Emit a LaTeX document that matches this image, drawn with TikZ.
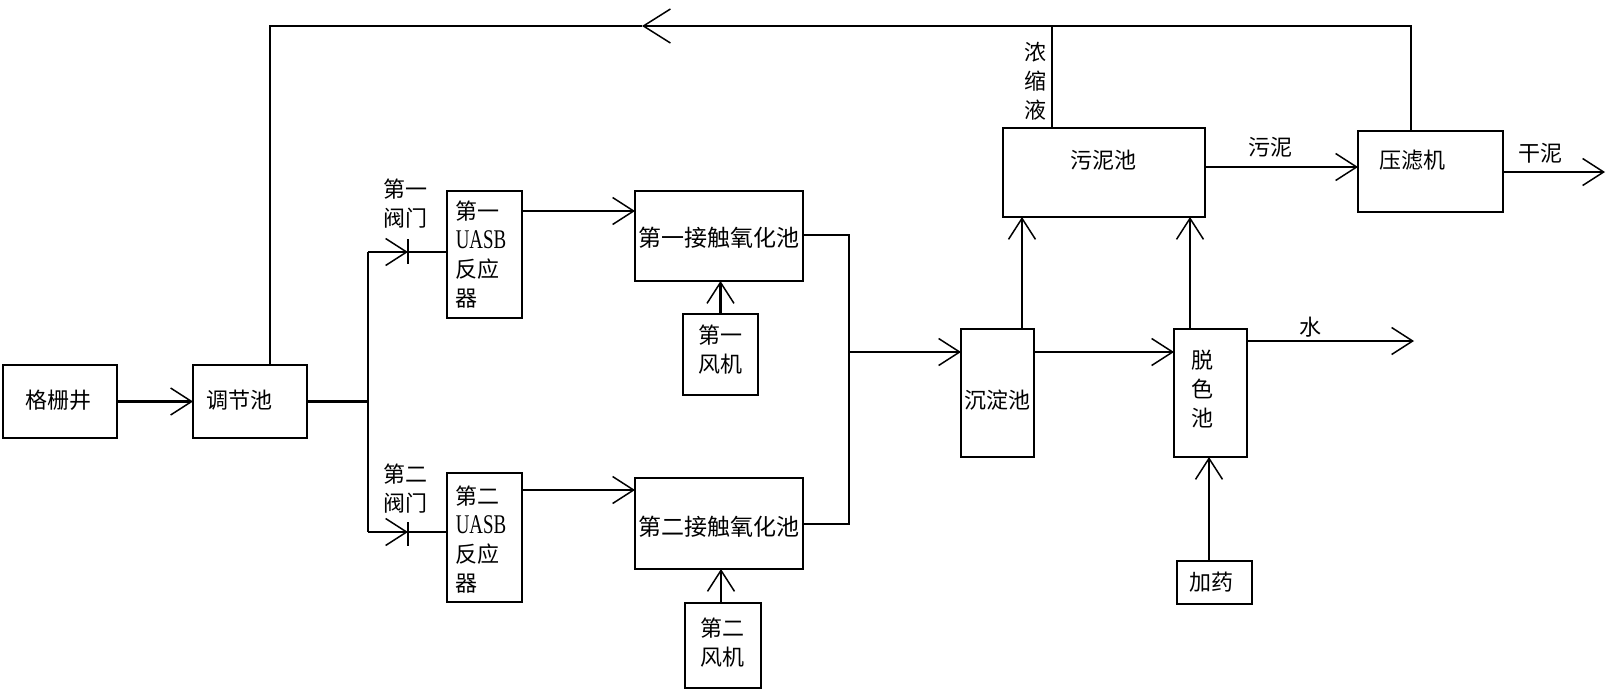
\documentclass[tikz,border=0pt]{standalone}
\usepackage{fontspec}
\setmainfont{Noto Sans CJK SC}
\newfontfamily\latf[FakeStretch=0.7]{Liberation Serif}
\usetikzlibrary{arrows.meta}
\tikzset{
 blk/.style={draw,line width=2.3pt,inner sep=0pt,outer sep=0pt},
 lbl/.style={inner sep=0pt,font=\fontsize{22}{29}\selectfont,align=center},
 thk/.style={line width=2.6pt},
 thn/.style={line width=1.6pt},
 tip/.style={-{Straight Barb[length=21pt,width=27pt,line width=1.5pt]}},
 bigtip/.style={-{Straight Barb[length=27pt,width=34pt,line width=1.5pt]}}
}
\begin{document}
\begin{tikzpicture}[x=1pt,y=-1pt]
\fill[white] (0,0) rectangle (1611,694);
\useasboundingbox (0,0) rectangle (1611,694);

% boxes
\node[blk,minimum width=114pt,minimum height=73pt] (gs) at (60,401.5) {};
\node[blk,minimum width=114pt,minimum height=73pt] (tj) at (250,401.5) {};
\node[blk,minimum width=75pt,minimum height=127pt] (u1) at (484.5,254.5) {};
\node[blk,minimum width=168pt,minimum height=90pt] (c1) at (719,236) {};
\node[blk,minimum width=75pt,minimum height=81pt] (f1) at (720.5,354.5) {};
\node[blk,minimum width=75pt,minimum height=129pt] (u2) at (484.5,537.5) {};
\node[blk,minimum width=168pt,minimum height=91pt] (c2) at (719,523.5) {};
\node[blk,minimum width=76pt,minimum height=85pt] (f2) at (723,645.5) {};
\node[blk,minimum width=73pt,minimum height=128pt] (cd) at (997.5,393) {};
\node[blk,minimum width=73pt,minimum height=128pt] (ts) at (1210.5,393) {};
\node[blk,minimum width=75pt,minimum height=43pt] (jy) at (1214.5,582.5) {};
\node[blk,minimum width=202pt,minimum height=89pt] (wn) at (1104,172.5) {};
\node[blk,minimum width=145pt,minimum height=81pt] (yl) at (1430.5,171.5) {};

% labels
\node[lbl] (l1) at (58,400) {格栅井};
\node[lbl] (l2) at (239,400) {调节池};
\node[lbl] (l3) at (405,204) {第一\\阀门};
\node[lbl] (l4) at (405,489) {第二\\阀门};
\node[lbl,align=left] (l5) at (481,255) {第一\\{\latf\fontsize{27}{28}\selectfont UASB}\\反应\\器};
\node[lbl,align=left] (l5b) at (481,540) {第二\\{\latf\fontsize{27}{28}\selectfont UASB}\\反应\\器};
\node[lbl,font=\fontsize{23}{29}\selectfont] (l6) at (719,238) {第一接触氧化池};
\node[lbl,font=\fontsize{23}{29}\selectfont] (l7) at (719,527) {第二接触氧化池};
\node[lbl] (l8) at (720,350) {第一\\风机};
\node[lbl] (l9) at (722,643) {第二\\风机};
\node[lbl] (l10) at (997,400) {沉淀池};
\node[lbl] (l11) at (1202,389) {脱\\色\\池};
\node[lbl] (l12) at (1211,582) {加药};
\node[lbl] (l13) at (1103,160) {污泥池};
\node[lbl] (l14) at (1412,160) {压滤机};
\node[lbl] (l15) at (1035,81) {浓\\缩\\液};
\node[lbl] (l16) at (1270,147) {污泥};
\node[lbl] (l17) at (1540,153) {干泥};
\node[lbl] (l18) at (1310,327) {水};

% coordinates
\coordinate (bm) at (368,401.5);
\coordinate (bt) at (368,252);
\coordinate (bb) at (368,532);
\coordinate (v1) at (408,252);
\coordinate (v2) at (408,532);
\coordinate (mj) at (849,352);
\coordinate (mt) at (849,235);
\coordinate (mb) at (849,524);
\coordinate (wo) at (1414,341);
\coordinate (dry) at (1605,172);
\coordinate (tr) at (1411,26);
\coordinate (tl) at (270,26);
\coordinate (fa) at (642,26);
\coordinate (nj) at (1052,26);

% connectors
\draw[thk,tip] (gs.east) -- (tj.west);
\draw[thk] (tj.east) -- (bm);
\draw[thk] (bt) -- (bb);
\draw[thn,tip] (bt) -- (v1);
\draw[thn] (v1) -- (u1.west |- v1);
\draw[thn] (408,239) -- (408,264);
\draw[thn,tip] (bb) -- (v2);
\draw[thn] (v2) -- (u2.west |- v2);
\draw[thn] (408,522) -- (408,546);

\draw[thk,tip] (u1.east |- 0,211) -- (c1.west |- 0,211);
\draw[thk,tip] (u2.east |- 0,490) -- (c2.west |- 0,490);
\draw[thk,tip] (f1.north) -- (c1.south -| f1.north);
\draw[thk,tip] (f2.north -| 721,0) -- (c2.south -| 721,0);

\draw[thn] (c1.east |- mt) -- (mt) -- (mb) -- (c2.east |- mb);
\draw[thn,tip] (mj) -- (cd.west |- mj);
\draw[thn,tip] (cd.east |- mj) -- (ts.west |- mj);
\draw[thk,tip] (cd.north -| 1022,0) -- (wn.south -| 1022,0);
\draw[thk,tip] (ts.north -| 1190,0) -- (wn.south -| 1190,0);
\draw[thk,tip] (ts.east |- wo) -- (wo);
\draw[thk,tip] (jy.north -| 1209,0) -- (ts.south -| 1209,0);
\draw[thk,tip] (wn.east |- 0,167) -- (yl.west |- 0,167);
\draw[thn,tip] (yl.east |- dry) -- (dry);

\draw[thn,bigtip] (yl.north -| tr) -- (tr) -- (fa);
\draw[thn] (fa) -- (tl) -- (tj.north -| tl);
\draw[thn] (wn.north -| nj) -- (nj);
\end{tikzpicture}
\end{document}
